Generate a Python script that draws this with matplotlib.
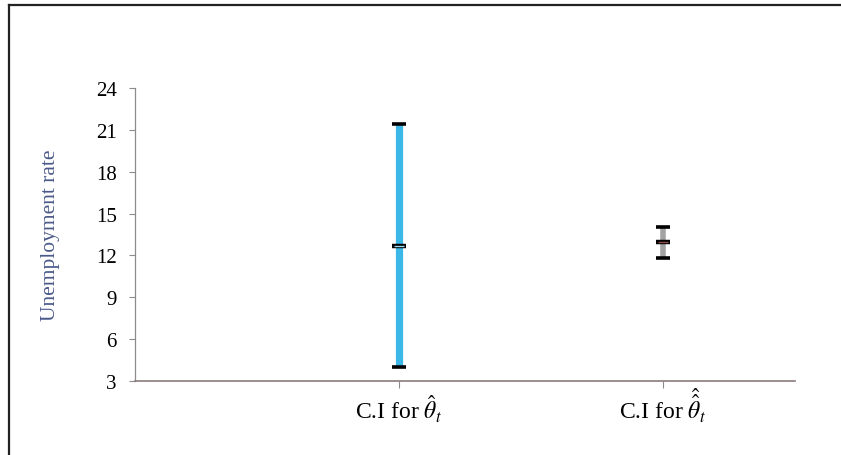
import numpy as np
import matplotlib
matplotlib.use("Agg")
import matplotlib.pyplot as plt
from matplotlib.lines import Line2D

plt.rcParams['font.family'] = ['Liberation Serif', 'DejaVu Serif']
plt.rcParams['mathtext.fontset'] = 'stix'

# data (high / low / close style intervals)
categories = [r'C.I for $\hat{\theta}_t$', r'C.I for $\hat{\hat{\theta}}_t$']
upper = [21.4, 14.05]
lower = [4.0, 11.8]
centre = [12.7, 12.95]
bar_colors = ['#3cb8e8', '#a3a3a3']
mid_colors = ['#9fd8ee', '#8a4a4a']
yticks = [3, 6, 9, 12, 15, 18, 21, 24]

fig = plt.figure(figsize=(8.41, 4.56), dpi=100)
ax = fig.add_axes([0.1605, 0.1623, 0.7848, 0.6425])

xpos = np.arange(1, len(categories) + 1)
for x, lo, hi, mid, c, mc in zip(xpos, lower, upper, centre, bar_colors, mid_colors):
    lw = 5.2 if c == bar_colors[0] else 4.0
    ax.plot([x, x], [lo, hi], color=c, lw=lw, solid_capstyle='butt', zorder=2)
    ax.plot([x, x], [lo, hi], ls='none', marker='_', ms=10, mew=2.6,
            color='black', zorder=3)
    ax.plot([x], [mid], ls='none', marker='_', ms=10, mew=3.2,
            color='black', zorder=3)
    ax.plot([x], [mid], ls='none', marker='_', ms=7.5, mew=1.0,
            color=mc, zorder=4)

ax.set_xlim(0, 2.5)
ax.set_ylim(3, 24)
ax.set_yticks(yticks)
ax.set_xticks(xpos)
ax.set_xticklabels([])
# category labels on a shared baseline
for x, lab in zip(xpos, categories):
    ax.text(x, -0.128, lab, transform=ax.get_xaxis_transform(),
            ha='center', va='baseline', fontsize=17)
ax.tick_params(axis='y', labelsize=15, length=4, width=0.8, color='#8c8c8c', pad=9)
ax.tick_params(axis='x', length=5, width=0.8, color='#8c8c8c')

for side in ['top', 'right']:
    ax.spines[side].set_visible(False)
ax.spines['left'].set_color('#8c8c8c')
ax.spines['bottom'].set_color('#8c7c7a')
ax.spines['left'].set_linewidth(0.9)
ax.spines['bottom'].set_linewidth(1.2)

ax.set_ylabel('Unemployment rate', fontsize=15.5, color='#4b5a8a')
ax.yaxis.set_label_coords(-0.114, 0.5)

# frame lines seen at top and left of the picture
fig.add_artist(Line2D([0.0107, 0.0107], [0.0, 0.986], color='#222222', lw=1.6))
fig.add_artist(Line2D([0.0107, 1.0], [0.986, 0.986], color='#222222', lw=1.6))

fig.savefig('out.png', dpi=100)
